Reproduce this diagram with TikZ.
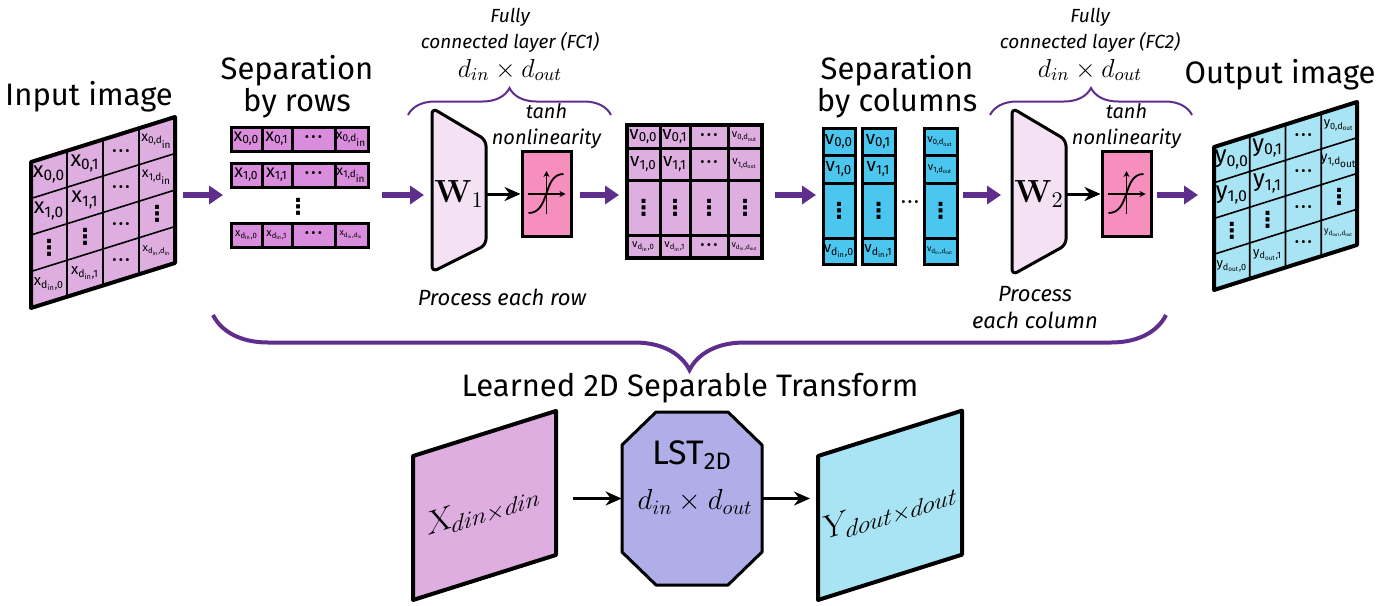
\documentclass[tikz,border=0pt]{standalone}
\usepackage{fix-cm}
\usepackage[no-math]{fontspec}
\setmainfont{Fira Sans}
\newfontfamily\dotsfont{DejaVu Sans}
\usetikzlibrary{positioning,arrows.meta,decorations.pathreplacing}

\definecolor{imgpink}{HTML}{DFAEE1}
\definecolor{rowpink}{HTML}{DA8CDD}
\definecolor{wpink}{HTML}{F4E1F4}
\definecolor{tanhpink}{HTML}{F68FBE}
\definecolor{colcyan}{HTML}{4AC6EF}
\definecolor{imgcyan}{HTML}{A8E4F3}
\definecolor{lstblue}{HTML}{B0AEE8}
\definecolor{flowpurple}{HTML}{5F2D8B}

\newcommand{\din}{d\textsubscript{in}}
\newcommand{\dout}{d\textsubscript{out}}
\newcommand{\hdts}{\textbullet\kern1.1pt\textbullet\kern1.1pt\textbullet}
\newcommand{\vdts}{⋮}

\tikzset{
  fs/.style={font=\fontsize{#1}{#1}\selectfont},
  hdotcell/.style={font=\fontsize{6.5}{6.5}\selectfont, inner sep=0pt},
  vdotcell/.style={font=\fontsize{11}{11}\selectfont\dotsfont\bfseries, inner sep=0pt},
  imgframe/.style={line width=2pt, line join=round},
  gridln/.style={line width=0.8pt},
  boxln/.style={line width=1.5pt},
  flow/.style={draw=flowpurple, line width=3pt, -{Triangle[length=7pt,width=9pt]}},
  link/.style={line width=1.5pt, -{Stealth[length=8pt,width=7pt]}},
  heading/.style={font=\fontsize{15.5}{12.5}\selectfont, align=center},
  note/.style={font=\fontsize{9.5}{13}\selectfont\itshape, align=center, inner sep=0pt},
  procnote/.style={font=\fontsize{11}{13.5}\selectfont\itshape, align=center},
  dims/.style={font=\fontsize{13}{13}\selectfont},
  fcbrace/.style={draw=flowpurple, line width=1pt, decorate, decoration={brace, amplitude=13.5pt}},
  bigbrace/.style={draw=flowpurple, line width=2pt, decorate, decoration={brace, mirror, amplitude=27.5pt}},
  tanhbox/.style={draw, line width=1.5pt, fill=tanhpink, minimum width=24.5pt, minimum height=42.5pt, inner sep=0pt},
  wshape/.style={draw, line width=1.5pt, fill=wpink, rounded corners=3pt},
  wlabel/.style={font=\fontsize{16}{16}\selectfont, minimum width=27pt, minimum height=20pt, inner sep=0pt},
  lstshape/.style={draw, line width=1.5pt, fill=lstblue, line join=round},
  lstanchor/.style={minimum width=70pt, minimum height=86.5pt, inner sep=0pt},
}

\begin{document}
\begin{tikzpicture}[x=0.5pt,y=-0.5pt]
\useasboundingbox (0,0) rectangle (1395,605);

\node[heading] (intitle) at (89,97) {Input image};
\begin{scope}[shift={(31,162)}, yslant=0.3125]
  \fill[imgpink] (0,0) -- (144,0) -- (144,146) -- (0,146) -- cycle;
  \draw[gridln] (36,0) -- (36,146) (72,0) -- (72,146) (108,0) -- (108,146)
    (0,36.5) -- (144,36.5) (0,73) -- (144,73) (0,109.5) -- (144,109.5);
  \draw[imgframe] (0,0) -- (144,0) -- (144,146) -- (0,146) -- cycle;
  \node[fs=11] (x00) at (18,18.25) {x\textsubscript{0,0}};
  \node[fs=11] (x01) at (54,18.25) {x\textsubscript{0,1}};
  \node[hdotcell] (x02) at (90,18.25) {\hdts};
  \node[fs=7] (x03) at (126,18.25) {x\textsubscript{0,\din}};
  \node[fs=11] (x10) at (18,54.75) {x\textsubscript{1,0}};
  \node[fs=11] (x11) at (54,54.75) {x\textsubscript{1,1}};
  \node[hdotcell] (x12) at (90,54.75) {\hdts};
  \node[fs=7] (x13) at (126,54.75) {x\textsubscript{1,\din}};
  \node[vdotcell] (x20) at (18,91.25) {\vdts};
  \node[vdotcell] (x21) at (54,91.25) {\vdts};
  \node[hdotcell] (x22) at (90,91.25) {\hdts};
  \node[vdotcell] (x23) at (126,91.25) {\vdts};
  \node[fs=7.5] (x30) at (18,127.75) {x\textsubscript{\din,0}};
  \node[fs=7.5] (x31) at (54,127.75) {x\textsubscript{\din,1}};
  \node[hdotcell] (x32) at (90,127.75) {\hdts};
  \node[fs=5.5] (x33) at (126,127.75) {x\textsubscript{\din,\din}};
\end{scope}

\coordinate (f1a) at (183,195);
\coordinate (f1b) at (223,195);
\draw[flow] (f1a) -- (f1b);

\node[heading] (rowtitle) at (297,87) {Separation\\by rows};
\draw[boxln, fill=rowpink] (231,127) rectangle (368,151);
\draw[boxln] (262,127) -- (262,151) (292,127) -- (292,151) (335,127) -- (335,151);
\draw[boxln, fill=rowpink] (231,163) rectangle (368,187);
\draw[boxln] (262,163) -- (262,187) (292,163) -- (292,187) (335,163) -- (335,187);
\draw[boxln, fill=rowpink] (231,223) rectangle (368,247);
\draw[boxln] (262,223) -- (262,247) (292,223) -- (292,247) (335,223) -- (335,247);
\node[fs=9] (r00) at (246.5,139) {x\textsubscript{0,0}};
\node[fs=9] (r01) at (277,139) {x\textsubscript{0,1}};
\node[hdotcell] (r02) at (313.5,139) {\hdts};
\node[fs=7] (r03) at (351.5,139) {x\textsubscript{0,\din}};
\node[fs=9] (r10) at (246.5,175) {x\textsubscript{1,0}};
\node[fs=9] (r11) at (277,175) {x\textsubscript{1,1}};
\node[hdotcell] (r12) at (313.5,175) {\hdts};
\node[fs=7] (r13) at (351.5,175) {x\textsubscript{1,\din}};
\node[vdotcell] (rdots) at (298,207) {\vdts};
\node[fs=5.5] (r20) at (246.5,235) {x\textsubscript{\din,0}};
\node[fs=5.5] (r21) at (277,235) {x\textsubscript{\din,1}};
\node[hdotcell] (r22) at (313.5,235) {\hdts};
\node[fs=4.5] (r23) at (351.5,235) {x\textsubscript{\din,\din}};

\coordinate (f2a) at (382,195);
\coordinate (f2b) at (424,195);
\draw[flow] (f2a) -- (f2b);

\node[note] (fc1) at (510,30) {Fully\\connected layer (FC1)};
\node[dims] (fc1dim) at (510,70) {$d_{in}\times d_{out}$};
\coordinate (fc1l) at (408,115);
\coordinate (fc1r) at (611,115);
\draw[fcbrace] (fc1l) -- (fc1r);
\draw[wshape] (432,108) -- (486,140) -- (486,245) -- (432,272) -- cycle;
\node[wlabel] (w1) at (459,194) {$\mathbf{W}_1$};
\node[tanhbox] (tanh1) at (546.5,194) {};
\node[note, font=\fontsize{10}{13}\selectfont\itshape, above=0.5pt of tanh1] (nl1) {tanh\\nonlinearity};
\draw[link] (w1.east) -- (tanh1.west);
\begin{scope}[shift={(tanh1.center)}]
  \draw[line width=0.6pt, -{Stealth[length=3pt,width=3pt]}] (-19,0) -- (19,0);
  \draw[line width=0.6pt, -{Stealth[length=3pt,width=3pt]}] (0,20) -- (0,-23);
  \draw[line width=0.9pt] (-18,19) .. controls (4,19) and (-4,-20) .. (17,-20);
\end{scope}
\node[procnote] (proc1) at (502,297) {Process each row};

\coordinate (f3a) at (580,195);
\coordinate (f3b) at (619,195);
\draw[flow] (f3a) -- (f3b);

\draw[boxln, line width=2pt, fill=imgpink] (627,125) rectangle (762,258);
\draw[boxln] (660,125) -- (660,258) (690,125) -- (690,258) (728,125) -- (728,258)
  (627,148) -- (762,148) (627,180) -- (762,180) (627,235) -- (762,235);
\node[fs=9.5] (v00) at (643.5,136.5) {v\textsubscript{0,0}};
\node[fs=9.5] (v01) at (675,136.5) {v\textsubscript{0,1}};
\node[hdotcell] (v02) at (709,136.5) {\hdts};
\node[fs=5.5] (v03) at (745,136.5) {v\textsubscript{0,\dout}};
\node[fs=9.5] (v10) at (643.5,164) {v\textsubscript{1,0}};
\node[fs=9.5] (v11) at (675,164) {v\textsubscript{1,1}};
\node[hdotcell] (v12) at (709,164) {\hdts};
\node[fs=5.5] (v13) at (745,164) {v\textsubscript{1,\dout}};
\node[vdotcell] (v20) at (643.5,207.5) {\vdts};
\node[vdotcell] (v21) at (675,207.5) {\vdts};
\node[vdotcell] (v22) at (709,207.5) {\vdts};
\node[vdotcell] (v23) at (745,207.5) {\vdts};
\node[fs=5.5] (v30) at (643.5,246.5) {v\textsubscript{\din,0}};
\node[fs=5.5] (v31) at (675,246.5) {v\textsubscript{\din,1}};
\node[hdotcell] (v32) at (709,246.5) {\hdts};
\node[fs=4.5] (v33) at (745,246.5) {v\textsubscript{\din,\dout}};

\coordinate (f4a) at (775,195);
\coordinate (f4b) at (816,195);
\draw[flow] (f4a) -- (f4b);

\node[heading] (coltitle) at (897,87) {Separation\\by columns};
\draw[boxln, fill=colcyan] (823,128) rectangle (855,264);
\draw[boxln] (823,155) -- (855,155) (823,183) -- (855,183) (823,238) -- (855,238);
\draw[boxln, fill=colcyan] (862,128) rectangle (895,264);
\draw[boxln] (862,155) -- (895,155) (862,183) -- (895,183) (862,238) -- (895,238);
\draw[boxln, fill=colcyan] (924,128) rectangle (957,264);
\draw[boxln] (924,155) -- (957,155) (924,183) -- (957,183) (924,238) -- (957,238);
\node[fs=9.5] (c00) at (839,141.5) {v\textsubscript{0,0}};
\node[fs=9.5] (c10) at (839,169) {v\textsubscript{1,0}};
\node[vdotcell] (c20) at (839,210.5) {\vdts};
\node[fs=7.5] (c30) at (839,251) {v\textsubscript{\din,0}};
\node[fs=9.5] (c01) at (878.5,141.5) {v\textsubscript{0,1}};
\node[fs=9.5] (c11) at (878.5,169) {v\textsubscript{1,1}};
\node[vdotcell] (c21) at (878.5,210.5) {\vdts};
\node[fs=7.5] (c31) at (878.5,251) {v\textsubscript{\din,1}};
\node[fs=5.5] (c02) at (940.5,141.5) {v\textsubscript{0,\dout}};
\node[fs=5.5] (c12) at (940.5,169) {v\textsubscript{1,\dout}};
\node[vdotcell] (c22) at (940.5,210.5) {\vdts};
\node[fs=4.5] (c32) at (940.5,251) {v\textsubscript{\din,\dout}};
\node[hdotcell] (cdots) at (910,204) {\hdts};

\coordinate (f5a) at (963,195);
\coordinate (f5b) at (1001,195);
\draw[flow] (f5a) -- (f5b);

\node[note] (fc2) at (1090,30) {Fully\\connected layer (FC2)};
\node[dims] (fc2dim) at (1090,70) {$d_{in}\times d_{out}$};
\coordinate (fc2l) at (990,115);
\coordinate (fc2r) at (1192,115);
\draw[fcbrace] (fc2l) -- (fc2r);
\draw[wshape] (1012,108) -- (1066,140) -- (1066,245) -- (1012,275) -- cycle;
\node[wlabel] (w2) at (1039,194) {$\mathbf{W}_2$};
\node[tanhbox] (tanh2) at (1126.5,194) {};
\node[note, font=\fontsize{10}{13}\selectfont\itshape, above=0.5pt of tanh2] (nl2) {tanh\\nonlinearity};
\draw[link] (w2.east) -- (tanh2.west);
\begin{scope}[shift={(tanh2.center)}]
  \draw[line width=0.6pt, -{Stealth[length=3pt,width=3pt]}] (-19,0) -- (19,0);
  \draw[line width=0.6pt, -{Stealth[length=3pt,width=3pt]}] (0,20) -- (0,-23);
  \draw[line width=0.9pt] (-18,19) .. controls (4,19) and (-4,-20) .. (17,-20);
\end{scope}
\node[procnote] (proc2) at (1035,308) {Process\\each column};

\coordinate (f6a) at (1157,195);
\coordinate (f6b) at (1198,195);
\draw[flow] (f6a) -- (f6b);

\node[heading] (outtitle) at (1280,75) {Output image};
\begin{scope}[shift={(1214,147)}, yslant=0.315]
  \fill[imgcyan] (0,0) -- (143,0) -- (143,143) -- (0,143) -- cycle;
  \draw[gridln] (35.75,0) -- (35.75,143) (71.5,0) -- (71.5,143) (107.25,0) -- (107.25,143)
    (0,35.75) -- (143,35.75) (0,71.5) -- (143,71.5) (0,107.25) -- (143,107.25);
  \draw[imgframe] (0,0) -- (143,0) -- (143,143) -- (0,143) -- cycle;
  \node[fs=12] (y00) at (17.9,17.9) {y\textsubscript{0,0}};
  \node[fs=12] (y01) at (53.6,17.9) {y\textsubscript{0,1}};
  \node[hdotcell] (y02) at (89.4,17.9) {\hdts};
  \node[fs=6.5] (y03) at (125.1,17.9) {y\textsubscript{0,\dout}};
  \node[fs=12] (y10) at (17.9,53.6) {y\textsubscript{1,0}};
  \node[fs=12] (y11) at (53.6,53.6) {y\textsubscript{1,1}};
  \node[hdotcell] (y12) at (89.4,53.6) {\hdts};
  \node[fs=7] (y13) at (125.1,53.6) {y\textsubscript{1,\dout}};
  \node[vdotcell] (y20) at (17.9,89.4) {\vdts};
  \node[vdotcell] (y21) at (53.6,89.4) {\vdts};
  \node[hdotcell] (y22) at (89.4,89.4) {\hdts};
  \node[vdotcell] (y23) at (125.1,89.4) {\vdts};
  \node[fs=6.5] (y30) at (17.9,125.1) {y\textsubscript{\dout,0}};
  \node[fs=6.5] (y31) at (53.6,125.1) {y\textsubscript{\dout,1}};
  \node[hdotcell] (y32) at (89.4,125.1) {\hdts};
  \node[fs=4.5] (y33) at (125.1,125.1) {y\textsubscript{\dout,\dout}};
\end{scope}

\coordinate (bl) at (213,315);
\coordinate (br) at (1166,315);
\draw[bigbrace] (bl) -- (br);
\node[heading] (lsttitle) at (690,388) {Learned 2D Separable Transform};

\begin{scope}[shift={(413,456)}, yslant=0.315]
  \draw[imgframe, fill=imgpink] (0,0) -- (143,0) -- (143,144) -- (0,144) -- cycle;
  \node[transform shape, font=\fontsize{17}{17}\selectfont] (xmat) at (71.5,76) {$\mathrm{X}_{din\times din}$};
\end{scope}
\draw[lstshape] (656,412) -- (728,412) -- (762,445) -- (762,552) -- (728,585) -- (656,585) -- (622,552) -- (622,445) -- cycle;
\node[lstanchor] (lst) at (692,498.5) {};
\node[fs=17] (lstname) at (692,455) {LST\textsubscript{2D}};
\node[font=\fontsize{14.5}{14.5}\selectfont] (lstdim) at (695,502) {$d_{in}\times d_{out}$};
\begin{scope}[shift={(818,456)}, yslant=0.315]
  \draw[imgframe, fill=imgcyan] (0,0) -- (144,0) -- (144,144) -- (0,144) -- cycle;
  \node[transform shape, font=\fontsize{17}{17}\selectfont] (ymat) at (72,78) {$\mathrm{Y}_{dout\times dout}$};
\end{scope}
\coordinate (xarr) at (573,498.5);
\draw[link] (xarr) -- (lst.west);
\coordinate (yarr) at (810,498.5);
\draw[link] (lst.east) -- (yarr);
\end{tikzpicture}
\end{document}
